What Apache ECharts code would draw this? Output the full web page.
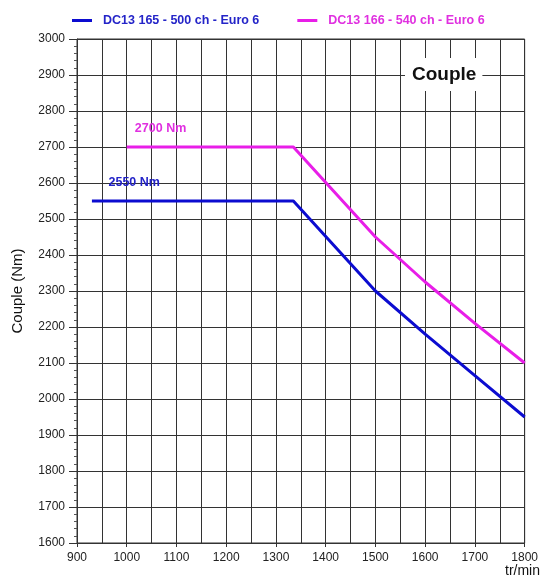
<!DOCTYPE html>
<html>
<head>
<meta charset="utf-8">
<script src="https://cdn.jsdelivr.net/npm/echarts@6/dist/echarts.min.js"></script>
<style>
  html, body { margin: 0; padding: 0; background: #fff; }
  #main { width: 541px; height: 579px; }
</style>
</head>
<body>
<div id="main"></div>
<script>
// données
const seriesNames = ['DC13 165 - 500 ch - Euro 6', 'DC13 166 - 540 ch - Euro 6']
const rpm500 = [930, 1335, 1500, 1600, 1700, 1800]
const torque500 = [2550, 2550, 2300, 2180, 2065, 1950]
const rpm540 = [1000, 1335, 1500, 1600, 1700, 1800]
const torque540 = [2700, 2700, 2450, 2325, 2210, 2100]
const peakLabels = ['2550 Nm', '2700 Nm']

const blue = '#0c0cd0'
const magenta = '#e81ee8'
const font = 'Arial, "Liberation Sans", sans-serif'

const chart = echarts.init(document.getElementById('main'))

const option = {
  animation: false,
  textStyle: { fontFamily: font },
  title: {
    text: 'Couple',
    left: 405,
    top: 58,
    padding: [7, 6, 7, 7],
    backgroundColor: '#fff',
    textStyle: { fontSize: 19, fontWeight: 'bold', color: '#111', fontFamily: font }
  },
  legend: {
    top: 9,
    left: 67,
    itemGap: 38,
    itemWidth: 20,
    itemHeight: 3,
    icon: 'rect',
    textStyle: { fontSize: 12.5, fontWeight: 'bold', fontFamily: font, padding: [0, 0, 0, 6] },
    data: [
      { name: seriesNames[0], textStyle: { color: '#2424c8' } },
      { name: seriesNames[1], textStyle: { color: '#e030e0' } }
    ]
  },
  grid: {
    left: 77, right: 13, top: 39, bottom: 36,
    show: true, borderColor: '#333', borderWidth: 1
  },
  xAxis: {
    type: 'value',
    min: 900, max: 1800, interval: 100,
    axisLine: { lineStyle: { color: '#333' } },
    axisTick: { show: true, length: 4, lineStyle: { color: '#333' } },
    axisLabel: { color: '#222', fontSize: 12, margin: 9, formatter: v => String(v) },
    splitLine: { show: true, lineStyle: { color: '#333', width: 1 } },
    minorTick: { show: false, splitNumber: 2 },
    minorSplitLine: { show: true, lineStyle: { color: '#333', width: 1 } }
  },
  yAxis: {
    type: 'value',
    min: 1600, max: 3000, interval: 100,
    name: 'Couple (Nm)',
    nameLocation: 'middle',
    nameGap: 52,
    nameTextStyle: { fontSize: 15, color: '#111', fontFamily: font },
    axisLine: { show: true, lineStyle: { color: '#333' } },
    axisTick: { show: true, length: 8, lineStyle: { color: '#333' } },
    minorTick: { show: true, splitNumber: 5, length: 3, lineStyle: { color: '#555' } },
    axisLabel: { color: '#222', fontSize: 12, margin: 12, formatter: v => String(v) },
    splitLine: { show: true, lineStyle: { color: '#333', width: 1 } }
  },
  graphic: [
    {
      type: 'text', right: 1, bottom: 1,
      style: { text: 'tr/min', fontSize: 14, fill: '#111', fontFamily: font }
    }
  ],
  series: [
    {
      name: seriesNames[0],
      type: 'line',
      data: rpm500.map((x, i) => [x, torque500[i]]),
      showSymbol: false,
      lineStyle: { width: 3, color: blue },
      itemStyle: { color: blue },
      z: 3,
      markPoint: {
        symbol: 'circle', symbolSize: 0,
        label: { show: true, position: 'inside', color: '#2424c8', fontSize: 12.5, fontWeight: 'bold', fontFamily: font, formatter: peakLabels[0] },
        data: [{ coord: [1015, 2600] }]
      }
    },
    {
      name: seriesNames[1],
      type: 'line',
      data: rpm540.map((x, i) => [x, torque540[i]]),
      showSymbol: false,
      lineStyle: { width: 3, color: magenta },
      itemStyle: { color: magenta },
      z: 3,
      markPoint: {
        symbol: 'circle', symbolSize: 0,
        label: { show: true, position: 'inside', color: '#e030e0', fontSize: 12.5, fontWeight: 'bold', fontFamily: font, formatter: peakLabels[1] },
        data: [{ coord: [1068, 2752] }]
      }
    }
  ]
}

chart.setOption(option)
</script>
</body>
</html>
